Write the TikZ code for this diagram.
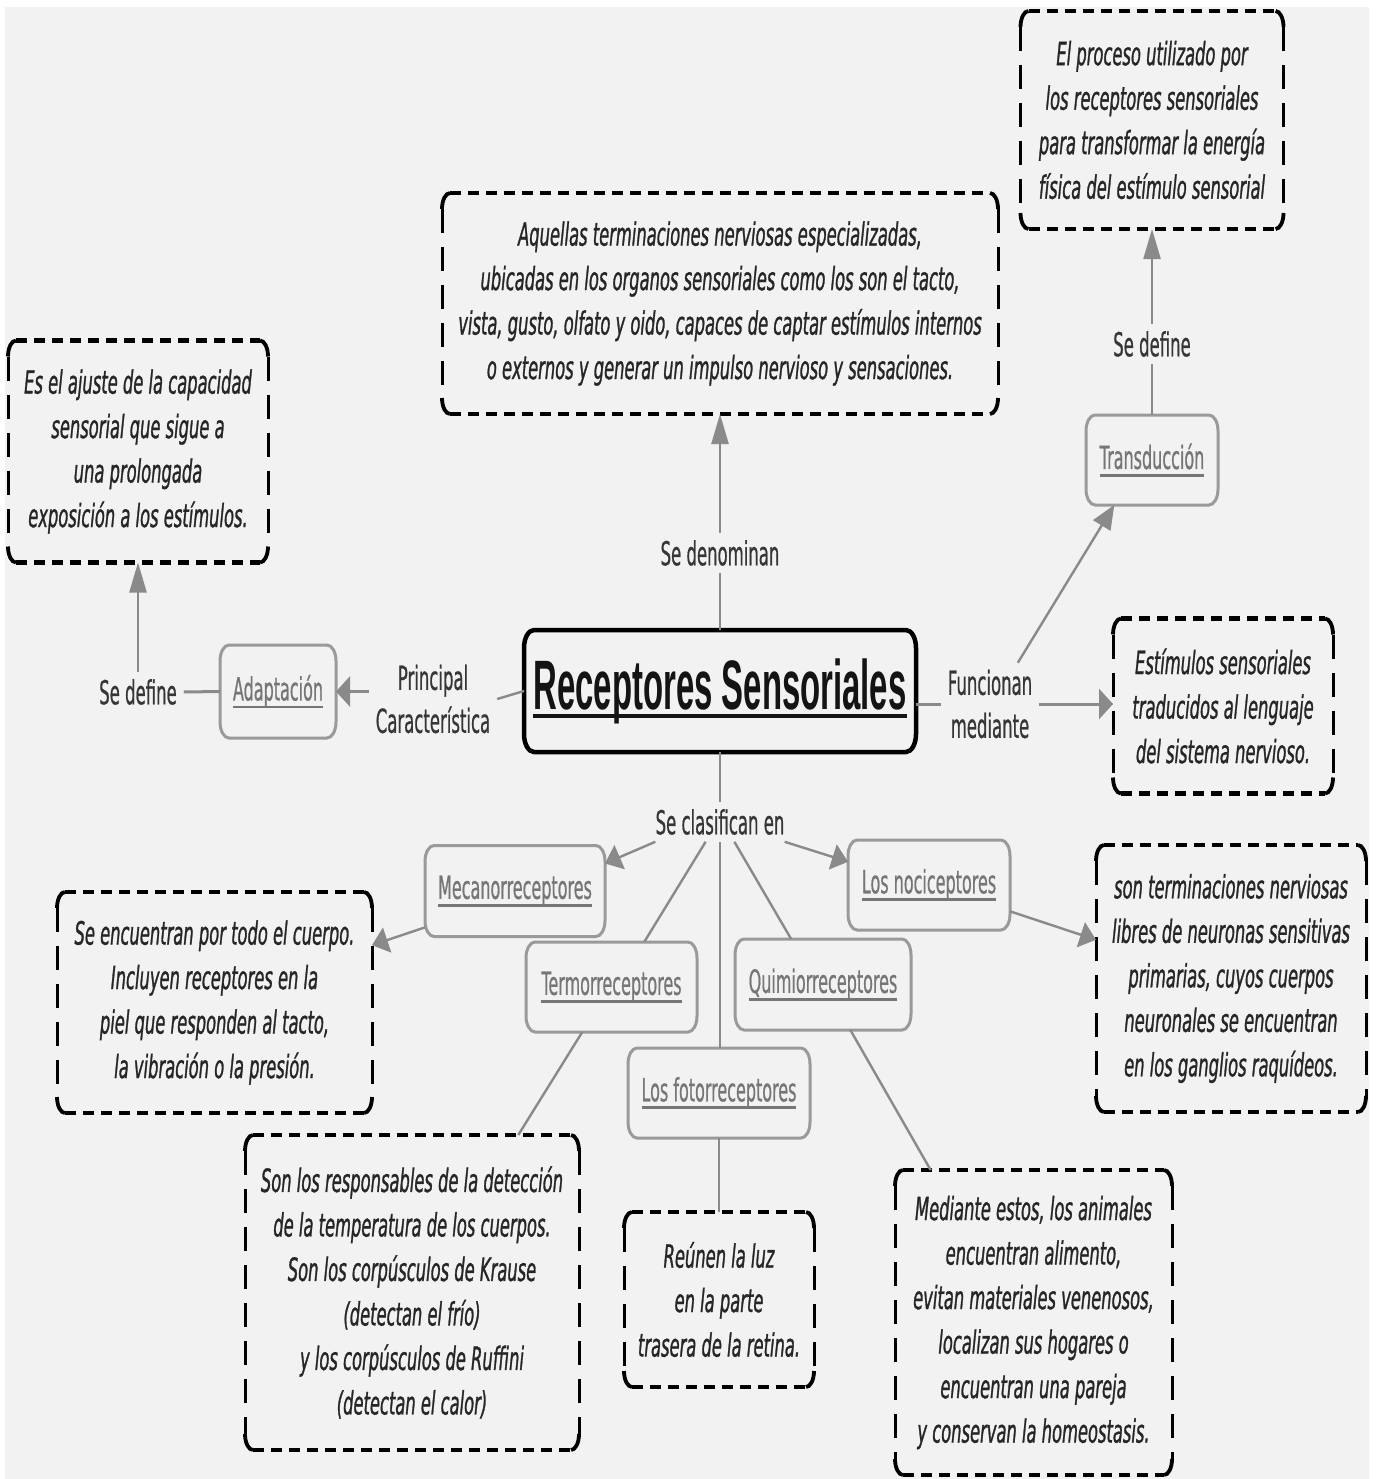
\documentclass[tikz,border=0pt]{standalone}
\usepackage{fontspec}
\usetikzlibrary{arrows.meta}

% condensed faces used throughout the map
\newfontfamily\lblfont{DejaVu Sans}[FakeStretch=0.5, FakeBold=0.6]
\newfontfamily\infofont{DejaVu Sans Oblique}[FakeStretch=0.51, FakeBold=0.9]
\newfontfamily\ttlfont{Liberation Sans Bold}[FakeStretch=0.47]

\definecolor{bg}{HTML}{F2F2F2}
\definecolor{ink}{HTML}{262626}
\definecolor{lbl}{HTML}{363636}
\definecolor{termgray}{HTML}{767676}
\definecolor{boxgray}{HTML}{9A9A9A}
\definecolor{conngray}{HTML}{8A8A8A}
\definecolor{titleink}{HTML}{141414}

% underlined words (rule crosses the descenders)
\newcommand\termul[1]{\setbox0=\hbox{#1}\rlap{\copy0}\rule[-0.24em]{\wd0}{0.08em}}
\newcommand\titleul[1]{\setbox0=\hbox{#1}\rlap{\copy0}\rule[-0.13em]{\wd0}{0.06em}}

% dashed frame with oval corners around a named node
\newcommand\dashframe[1]{%
  \draw[hdash] ([xshift=8pt]#1.north west) -- ([xshift=-8pt]#1.north east);
  \draw[hdash] ([xshift=8pt]#1.south west) -- ([xshift=-8pt]#1.south east);
  \draw[vdash] ([yshift=-16pt]#1.north west) -- ([yshift=16pt]#1.south west);
  \draw[vdash] ([yshift=-16pt]#1.north east) -- ([yshift=16pt]#1.south east);
  \draw[dcorner] ([yshift=-16pt]#1.north west) .. controls ([yshift=-7.2pt]#1.north west) and ([xshift=3.6pt]#1.north west) .. ([xshift=8pt]#1.north west);
  \draw[dcorner] ([yshift=-16pt]#1.north east) .. controls ([yshift=-7.2pt]#1.north east) and ([xshift=-3.6pt]#1.north east) .. ([xshift=-8pt]#1.north east);
  \draw[dcorner] ([yshift=16pt]#1.south west) .. controls ([yshift=7.2pt]#1.south west) and ([xshift=3.6pt]#1.south west) .. ([xshift=8pt]#1.south west);
  \draw[dcorner] ([yshift=16pt]#1.south east) .. controls ([yshift=7.2pt]#1.south east) and ([xshift=-3.6pt]#1.south east) .. ([xshift=-8pt]#1.south east);
}

% solid frame with oval corners: node, x radius, y radius, style
\newcommand\ovalframe[4]{%
  \draw[#4] ([xshift=#2]#1.north west) -- ([xshift=-#2]#1.north east)
    .. controls ([xshift=-0.448*#2]#1.north east) and ([yshift=-0.448*#3]#1.north east) .. ([yshift=-#3]#1.north east)
    -- ([yshift=#3]#1.south east)
    .. controls ([yshift=0.448*#3]#1.south east) and ([xshift=-0.448*#2]#1.south east) .. ([xshift=-#2]#1.south east)
    -- ([xshift=#2]#1.south west)
    .. controls ([xshift=0.448*#2]#1.south west) and ([yshift=0.448*#3]#1.south west) .. ([yshift=#3]#1.south west)
    -- ([yshift=-#3]#1.north west)
    .. controls ([yshift=-0.448*#3]#1.north west) and ([xshift=0.448*#2]#1.north west) .. cycle;
}

\tikzset{
  every node/.style={outer sep=0pt, inner sep=0pt},
  infobox/.style={align=center, text=ink, font=\infofont\fontsize{32}{44.5}\selectfont},
  termbox/.style={align=center, text=termgray, font=\lblfont\fontsize{32}{40}\selectfont},
  linklabel/.style={align=center, text=lbl, font=\lblfont\fontsize{33}{43}\selectfont, inner sep=7pt},
  link/.style={draw=conngray, line width=2.4pt},
  arrV/.style={link, -{Triangle[length=30pt,width=17pt]}},
  arrH/.style={link, line width=3pt, -{Triangle[length=14pt,width=30pt]}},
  arrD/.style={link, -{Triangle[length=16pt,width=26pt]}},
  arrS/.style={link, -{Triangle[length=24pt,width=20pt]}},
  hdash/.style={line width=4.6pt, dash pattern=on 11pt off 7pt},
  vdash/.style={line width=3pt, dash pattern=on 24pt off 14pt},
  dcorner/.style={line width=3.8pt},
  termframe/.style={draw=boxgray, line width=3pt},
  mainframe/.style={draw=black, line width=4.5pt},
}

\begin{document}
\begin{tikzpicture}[x=1pt, y=-1pt]
\useasboundingbox (0,0) rectangle (1378,1479);
\fill[white] (0,0) rectangle (1378,1479);
\fill[bg] (5,7) rectangle (1369,1479);

% central concept
\node[minimum width=392pt, minimum height=122pt, text=titleink] (central) at (720,691)
  {\ttlfont\fontsize{70}{80}\selectfont\titleul{Receptores Sensoriales}};
\ovalframe{central}{10pt}{18pt}{mainframe}

% definition boxes
\node[infobox, minimum width=556pt, minimum height=221pt] (aquellas) at (720,303.5)
  {Aquellas terminaciones nerviosas especializadas,\\
   ubicadas en los organos sensoriales como los son el tacto,\\
   vista, gusto, olfato y oido, capaces de captar estímulos internos\\
   o externos y generar un impulso nervioso y sensaciones.};
\node[infobox, minimum width=260pt, minimum height=222pt] (adaptdef) at (138,451.5)
  {Es el ajuste de la capacidad\\ sensorial que sigue a\\ una prolongada\\ exposición a los estímulos.};
\node[infobox, minimum width=263pt, minimum height=218pt] (transddef) at (1152,120)
  {El proceso utilizado por\\ los receptores sensoriales\\ para transformar la energía\\ física del estímulo sensorial};
\node[infobox, minimum width=220pt, minimum height=175pt] (estim) at (1223,706)
  {Estímulos sensoriales\\ traducidos al lenguaje\\ del sistema nervioso.};
\node[infobox, minimum width=315pt, minimum height=221pt] (mecanodef) at (214.5,1002.5)
  {Se encuentran por todo el cuerpo.\\ Incluyen receptores en la\\ piel que responden al tacto,\\ la vibración o la presión.};
\node[infobox, minimum width=334pt, minimum height=315pt] (termodef) at (412,1292.5)
  {Son los responsables de la detección\\ de la temperatura de los cuerpos.\\ Son los corpúsculos de Krause\\ (detectan el frío)\\ y los corpúsculos de Ruffini\\ (detectan el calor)};
\node[infobox, minimum width=190pt, minimum height=175pt] (fotodef) at (719,1299.5)
  {Reúnen la luz\\ en la parte\\ trasera de la retina.};
\node[infobox, minimum width=277pt, minimum height=305pt] (quimiodef) at (1033.5,1322.5)
  {Mediante estos, los animales\\ encuentran alimento,\\ evitan materiales venenosos,\\ localizan sus hogares o\\ encuentran una pareja\\ y conservan la homeostasis.};
\node[infobox, minimum width=270pt, minimum height=267pt] (nocidef) at (1231,978.5)
  {son terminaciones nerviosas\\ libres de neuronas sensitivas\\ primarias, cuyos cuerpos\\ neuronales se encuentran\\ en los ganglios raquídeos.};

\foreach \b in {aquellas,adaptdef,transddef,estim,mecanodef,termodef,fotodef,quimiodef,nocidef}
  {\dashframe{\b}}

% concept boxes
\node[termbox, minimum width=116pt, minimum height=93pt] (adapt) at (278,691.5) {\termul{Adaptación}};
\node[termbox, minimum width=132pt, minimum height=90pt] (transd) at (1152,460) {\termul{Transducción}};
\node[termbox, minimum width=180pt, minimum height=91pt] (mecano) at (515,891) {\termul{Mecanorreceptores}};
\node[termbox, minimum width=162pt, minimum height=90pt] (noci) at (929,885) {\termul{Los nociceptores}};
\node[termbox, minimum width=171pt, minimum height=90pt] (termo) at (611.5,987) {\termul{Termorreceptores}};
\node[termbox, minimum width=176pt, minimum height=91pt] (quimio) at (823,984.5) {\termul{Quimiorreceptores}};
\node[termbox, minimum width=182pt, minimum height=90pt] (foto) at (719,1093) {\termul{Los fotorreceptores}};

\foreach \b in {adapt,transd,mecano,noci,termo,quimio,foto}
  {\ovalframe{\b}{9pt}{16pt}{termframe}}

% linking phrases
\node[linklabel] (sedenom) at (720,553) {Se denominan};
\node[linklabel] (princ) at (433,699) {Principal\\Característica};
\node[linklabel] (sedefl) at (138,692) {Se define};
\node[linklabel] (func) at (990,704) {Funcionan\\mediante};
\node[linklabel] (sedefr) at (1152,344) {Se define};
\node[linklabel] (clasif) at (720,822) {Se clasifican en};

% connectors
\draw[link] (central.north) -- (sedenom.south);
\draw[arrV] (sedenom.north) -- (aquellas.south);

\draw[link] (central.west) -- (princ.east);
\draw[arrH] (adapt.east -| princ.west) -- (adapt.east);
\draw[link, line width=3pt] (adapt.west) -- (sedefl.east);
\draw[arrV] (sedefl.north) -- (adaptdef.south);

\draw[link, line width=3pt] (func.west -| central.east) -- (func.west);
\draw[arrS] (func.56) -- (transd.230);
\draw[arrH] (func.east) -- (func.east -| estim.west);
\draw[link] (transd.north) -- (sedefr.south);
\draw[arrV] (sedefr.north) -- (transddef.south);

\draw[link] (central.south) -- (clasif.north);
\draw[arrD] (clasif.197) -- (mecano.17);
\draw[arrD] (clasif.-17) -- (noci.164);
\draw[link] (clasif.234) -- (termo.54);
\draw[link] (clasif.-54) -- (quimio.125);
\draw[link] (clasif.south) -- (clasif.south |- foto.north);

\draw[arrD] (mecano.202) -- (mecanodef.20);
\draw[arrD] (noci.-18) -- (nocidef.164);
\draw[link] (termo.237) -- (termodef.56);
\draw[link] (foto.south) -- (fotodef.north);
\draw[link] (quimio.-59) -- (quimiodef.124);
\end{tikzpicture}
\end{document}
